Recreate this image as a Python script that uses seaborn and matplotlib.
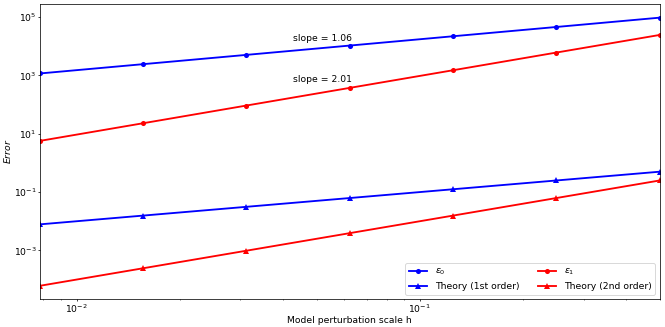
import matplotlib
matplotlib.use("Agg")
import matplotlib.pyplot as plt
import seaborn as sns

# perturbation scales h = 2^-7 ... 2^-1
h = [0.0078125, 0.015625, 0.03125, 0.0625, 0.125, 0.25, 0.5]

eps0 = [1.17e3, 2.44e3, 5.08e3, 1.06e4, 2.21e4, 4.6e4, 9.6e4]
eps1 = [5.7, 23.0, 93.0, 375.0, 1510.0, 6100.0, 2.45e4]

# theoretical reference curves
theory1 = [0.0078125, 0.015625, 0.03125, 0.0625, 0.125, 0.25, 0.5]
theory2 = [6.1035e-5, 2.4414e-4, 9.7656e-4, 3.90625e-3, 1.5625e-2, 6.25e-2, 0.25]

slope0 = 1.06
slope1 = 2.01

DPI = 66.5
fig, ax = plt.subplots(figsize=(665 / DPI, 327 / DPI), dpi=DPI)

# circles for measured errors, triangles for theory
sns.lineplot(x=h, y=eps0, ax=ax, color="blue", marker="o", markersize=5.5,
             markeredgewidth=0, linewidth=2, label=r"$\epsilon_0$")
sns.lineplot(x=h, y=theory1, ax=ax, color="blue", marker="^", markersize=6,
             markeredgewidth=0, linewidth=2, label="Theory (1st order)")
sns.lineplot(x=h, y=eps1, ax=ax, color="red", marker="o", markersize=5.5,
             markeredgewidth=0, linewidth=2, label=r"$\epsilon_1$")
sns.lineplot(x=h, y=theory2, ax=ax, color="red", marker="^", markersize=6,
             markeredgewidth=0, linewidth=2, label="Theory (2nd order)")

ax.set_xscale("log")
ax.set_yscale("log")
ax.set_xlim(h[0], h[-1])

ax.text(0.052, 1.8e4, f"slope = {slope0:.2f}", ha="center", va="center")
ax.text(0.052, 7.5e2, f"slope = {slope1:.2f}", ha="center", va="center")

ax.tick_params(which="major", length=2.2, pad=1.2)
ax.tick_params(which="minor", length=1.4, pad=1.2)
ax.set_xlabel("Model perturbation scale h", labelpad=1.5)
ax.set_ylabel(r"$Error$", labelpad=1)
ax.legend(loc="lower right", ncol=2)

fig.subplots_adjust(left=0.060, right=0.992, top=0.987, bottom=0.085)
fig.savefig("out.png", dpi=DPI)
